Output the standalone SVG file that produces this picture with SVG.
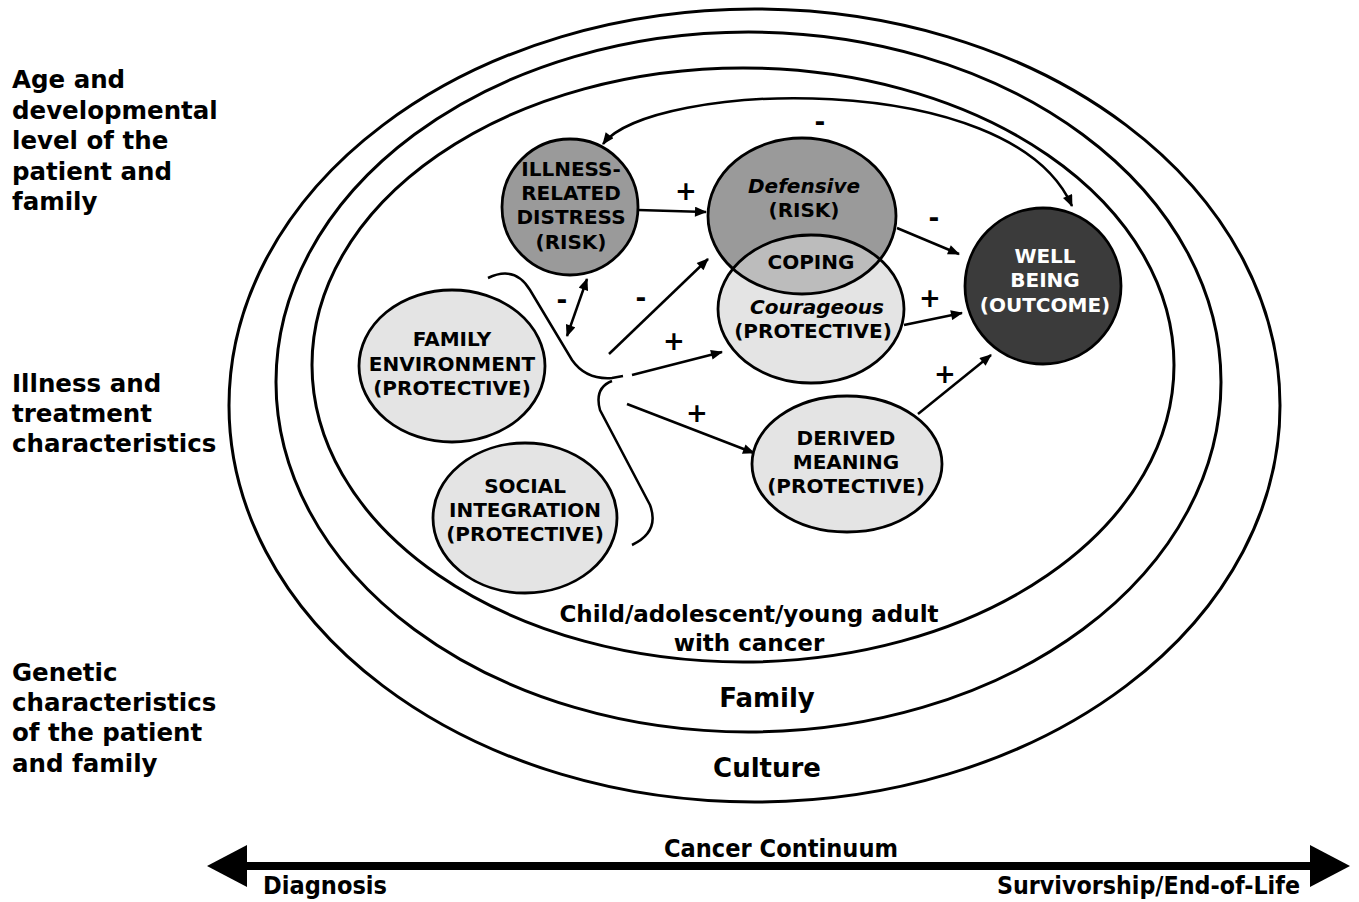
<svg xmlns="http://www.w3.org/2000/svg" width="1359" height="902" viewBox="0 0 1359 902">
<style>
.ring{fill:none;stroke:#000;stroke-width:3}
.node{stroke:#000;stroke-width:2.8}
.lt{fill:#e4e4e4}
.md{fill:#9a9a9a}
.dk{fill:#3b3b3b}
.t{font-family:"DejaVu Sans","Liberation Sans",sans-serif;font-weight:bold;fill:#000}
.nt{font-size:20px;text-anchor:middle}
.it{font-style:italic}
.side{font-size:24.5px}
.sign{font-size:26px;text-anchor:middle}
.con{fill:none;stroke:#000;stroke-width:2.5}
.ax{font-family:"Liberation Sans Narrow","DejaVu Sans Condensed","Liberation Sans",sans-serif;font-weight:bold;font-size:25px;fill:#000}
</style>
<defs>
<marker id="ah" viewBox="0 0 12 10" refX="11" refY="5" markerWidth="13" markerHeight="10" markerUnits="userSpaceOnUse" orient="auto-start-reverse">
<path d="M0,0 L12,5 L0,10 Z" fill="#000"/>
</marker>
<clipPath id="courClip"><ellipse cx="811" cy="309" rx="93" ry="74"/></clipPath>
</defs>
<rect width="1359" height="902" fill="#fff"/>

<g id="rings">
<ellipse class="ring" cx="754.5" cy="405.5" rx="525.5" ry="396.5"/>
<ellipse class="ring" cx="748.5" cy="382" rx="472.5" ry="350"/>
<ellipse class="ring" cx="743" cy="365" rx="431" ry="297"/>
<text class="t" x="749" y="622" font-size="23" text-anchor="middle">Child/adolescent/young adult</text>
<text class="t" x="749" y="651" font-size="23" text-anchor="middle">with cancer</text>
<text class="t" x="767" y="707" font-size="26" text-anchor="middle">Family</text>
<text class="t" x="767" y="777" font-size="26" text-anchor="middle">Culture</text>
</g>

<g id="side-labels">
<text class="t side" x="12" y="88">Age and</text>
<text class="t side" x="12" y="118.5">developmental</text>
<text class="t side" x="12" y="149">level of the</text>
<text class="t side" x="12" y="179.5">patient and</text>
<text class="t side" x="12" y="210">family</text>
<text class="t side" x="12" y="392">Illness and</text>
<text class="t side" x="12" y="422">treatment</text>
<text class="t side" x="12" y="452">characteristics</text>
<text class="t side" x="12" y="681">Genetic</text>
<text class="t side" x="12" y="711">characteristics</text>
<text class="t side" x="12" y="741">of the patient</text>
<text class="t side" x="12" y="772">and family</text>
</g>

<g id="connectors">
<path class="con" d="M603,144 C650,82 1010,66 1072,206" marker-start="url(#ah)" marker-end="url(#ah)"/>
<line class="con" x1="638" y1="210" x2="706" y2="212" marker-end="url(#ah)"/>
<line class="con" x1="897" y1="228" x2="959" y2="254" marker-end="url(#ah)"/>
<line class="con" x1="904" y1="325" x2="962" y2="313" marker-end="url(#ah)"/>
<line class="con" x1="918" y1="414" x2="991" y2="355" marker-end="url(#ah)"/>
<line class="con" x1="567" y1="336" x2="587" y2="279" marker-start="url(#ah)" marker-end="url(#ah)"/>
<line class="con" x1="609" y1="354" x2="708" y2="259" marker-end="url(#ah)"/>
<line class="con" x1="632" y1="375" x2="722" y2="352" marker-end="url(#ah)"/>
<line class="con" x1="627" y1="404" x2="754" y2="453" marker-end="url(#ah)"/>
<path class="con" d="M488,278 Q515,265 530,290 L572,360 Q586,380 612,378 L623,376"/>
<path class="con" d="M612,381 Q594,388 600,410 L650,505 Q660,532 632,545"/>
<text class="t sign" x="820" y="131">-</text>
<text class="t sign" x="686" y="200">+</text>
<text class="t sign" x="934" y="227">-</text>
<text class="t sign" x="930" y="307">+</text>
<text class="t sign" x="945" y="383">+</text>
<text class="t sign" x="562" y="309">-</text>
<text class="t sign" x="641" y="307">-</text>
<text class="t sign" x="674" y="350">+</text>
<text class="t sign" x="697" y="422">+</text>
</g>

<g id="illness-distress">
<circle class="node md" cx="570" cy="207" r="68"/>
<text class="t nt" x="571" y="176">ILLNESS-</text>
<text class="t nt" x="571" y="200">RELATED</text>
<text class="t nt" x="571" y="224">DISTRESS</text>
<text class="t nt" x="571" y="249">(RISK)</text>
</g>

<g id="coping">
<ellipse class="md" cx="802" cy="216" rx="94" ry="78"/>
<ellipse class="lt" cx="811" cy="309" rx="93" ry="74"/>
<ellipse fill="#bcbcbc" cx="802" cy="216" rx="94" ry="78" clip-path="url(#courClip)"/>
<ellipse class="node" fill="none" cx="802" cy="216" rx="94" ry="78"/>
<ellipse class="node" fill="none" cx="811" cy="309" rx="93" ry="74"/>
<text class="t nt it" x="804" y="193">Defensive</text>
<text class="t nt" x="804" y="217">(RISK)</text>
<text class="t nt" x="811" y="269">COPING</text>
<text class="t nt it" x="817" y="314">Courageous</text>
<text class="t nt" x="813" y="338">(PROTECTIVE)</text>
</g>

<g id="well-being">
<circle class="node dk" cx="1043" cy="286" r="78"/>
<text class="t nt" x="1045" y="263" style="fill:#fff">WELL</text>
<text class="t nt" x="1045" y="287" style="fill:#fff">BEING</text>
<text class="t nt" x="1045" y="312" style="fill:#fff">(OUTCOME)</text>
</g>

<g id="family-environment">
<ellipse class="node lt" cx="452" cy="366" rx="93" ry="76"/>
<text class="t nt" x="452" y="346">FAMILY</text>
<text class="t nt" x="452" y="371">ENVIRONMENT</text>
<text class="t nt" x="452" y="395">(PROTECTIVE)</text>
</g>

<g id="social-integration">
<ellipse class="node lt" cx="525" cy="518" rx="92" ry="75"/>
<text class="t nt" x="525" y="493">SOCIAL</text>
<text class="t nt" x="525" y="517">INTEGRATION</text>
<text class="t nt" x="525" y="541">(PROTECTIVE)</text>
</g>

<g id="derived-meaning">
<ellipse class="node lt" cx="847" cy="464" rx="95" ry="68"/>
<text class="t nt" x="846" y="445">DERIVED</text>
<text class="t nt" x="846" y="469">MEANING</text>
<text class="t nt" x="846" y="493">(PROTECTIVE)</text>
</g>

<g id="continuum">
<rect x="240" y="862" width="1075" height="8" fill="#000"/>
<path d="M207,866 L247,845 L247,887 Z" fill="#000"/>
<path d="M1350,866 L1310,845 L1310,887 Z" fill="#000"/>
<text class="ax" x="781" y="857" text-anchor="middle" textLength="234" lengthAdjust="spacingAndGlyphs">Cancer Continuum</text>
<text class="ax" x="263" y="894" textLength="124" lengthAdjust="spacingAndGlyphs">Diagnosis</text>
<text class="ax" x="997" y="894" textLength="303" lengthAdjust="spacingAndGlyphs">Survivorship/End-of-Life</text>
</g>
</svg>
